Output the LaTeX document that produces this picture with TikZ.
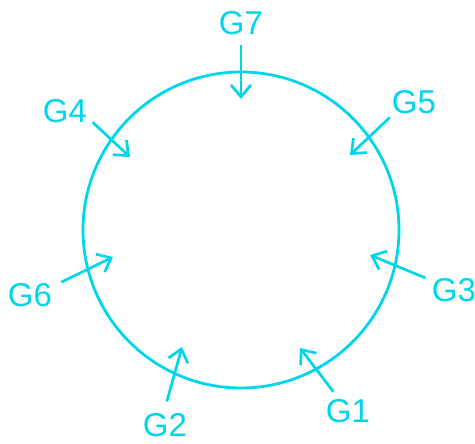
\documentclass[tikz,border=0pt]{standalone}
\usepackage{fontspec}
\setmainfont{Liberation Sans}
\definecolor{ringCyan}{RGB}{0,214,234}
\usetikzlibrary{arrows.meta}

\begin{document}
\begin{tikzpicture}[x=1pt, y=1pt,
  lbl/.style={text=ringCyan, font=\fontsize{33}{35}\selectfont, inner sep=1pt},
  arr/.style={-{Straight Barb[length=12pt, width=20pt]}, line width=2.7pt, ringCyan}
]
  \useasboundingbox (0,0) rectangle (475,444);

  \draw[ringCyan, line width=2.8pt] (241,214) circle[radius=158];

  \node[lbl] (g7) at (241,421) {G7};
  \node[lbl] (g4) at (65,333)  {G4};
  \node[lbl] (g5) at (414,342) {G5};
  \node[lbl] (g6) at (30,149)  {G6};
  \node[lbl] (g3) at (454,154) {G3};
  \node[lbl] (g2) at (165,19)  {G2};
  \node[lbl] (g1) at (348,33)  {G1};

  \coordinate (t7) at (241,345);
  \coordinate (t4) at (130,287);
  \coordinate (t5) at (350,289);
  \coordinate (t6) at (113,187);
  \coordinate (t3) at (370,189);
  \coordinate (t2) at (182,97);
  \coordinate (t1) at (300,96);

  \draw[arr, shorten <=9pt]  (g7.south) -- (t7);
  \draw[arr, shorten <=6pt]  (g4.-17)   -- (t4);
  \draw[arr, shorten <=4pt]  (g5.211)   -- (t5);
  \draw[arr, shorten <=9pt]  (g6.21)    -- (t6);
  \draw[arr, shorten <=6pt]  (g3.157)   -- (t3);
  \draw[arr, shorten <=11pt] (g2.95)    -- (t2);
  \draw[arr, shorten <=8pt]  (g1.127)   -- (t1);
\end{tikzpicture}
\end{document}
